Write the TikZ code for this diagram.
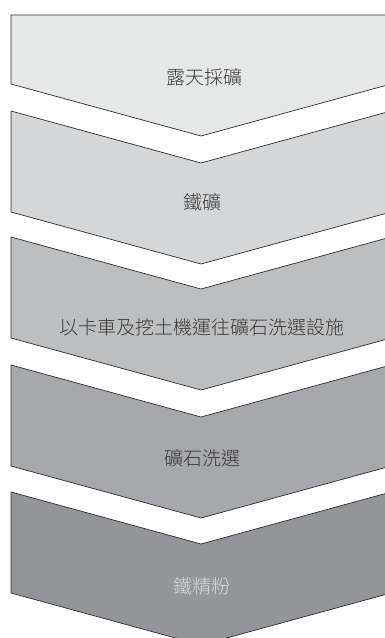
\documentclass[tikz,border=0pt]{standalone}
\usepackage{fontspec}
\newfontfamily\cjk{Noto Sans CJK TC Light}
\definecolor{fa}{HTML}{E6E7E7}
\definecolor{fb}{HTML}{D5D6D8}
\definecolor{fc}{HTML}{BDBEC0}
\definecolor{fd}{HTML}{A7A8AB}
\definecolor{fe}{HTML}{939598}
\definecolor{edge}{HTML}{2E2E2E}
\definecolor{darktext}{HTML}{3A3A3A}
\definecolor{lighttext}{HTML}{DADADA}
\tikzset{
  chev/.style={draw=edge, line width=0.7pt, line join=miter},
  lbl/.style={font=\cjk\fontsize{19}{22}\selectfont, text=darktext, inner sep=0pt, anchor=center},
}
\begin{document}
\begin{tikzpicture}[x=1pt,y=-1pt]
\useasboundingbox (0,0) rectangle (385,638);
\clip (0,0) rectangle (385,638);
\fill[white] (0,0) rectangle (385,638);
% shape 1
\path[chev, fill=fa] (11,15) -- (391,15) -- (391,84) -- (201,136) -- (11,84) -- cycle;
% shapes 2-5
\path[chev, fill=fb] (11,111) -- (201,163) -- (391,111) -- (391,212) -- (201,264) -- (11,212) -- cycle;
\path[chev, fill=fc] (11,237) -- (201,289) -- (391,237) -- (391,338) -- (201,390) -- (11,338) -- cycle;
\path[chev, fill=fd] (11,365) -- (201,417) -- (391,365) -- (391,466) -- (201,518) -- (11,466) -- cycle;
\path[chev, fill=fe] (11,492) -- (201,544) -- (391,492) -- (391,593) -- (201,645) -- (11,593) -- cycle;
\node[lbl] (t1) at (204,77) {露天採礦};
\node[lbl] (t2) at (202,202) {鐵礦};
\node[lbl] (t3) at (202,327) {以卡車及挖土機運往礦石洗選設施};
\node[lbl] (t4) at (202,458) {礦石洗選};
\node[lbl, text=lighttext] (t5) at (202,586) {鐵精粉};
\end{tikzpicture}
\end{document}
